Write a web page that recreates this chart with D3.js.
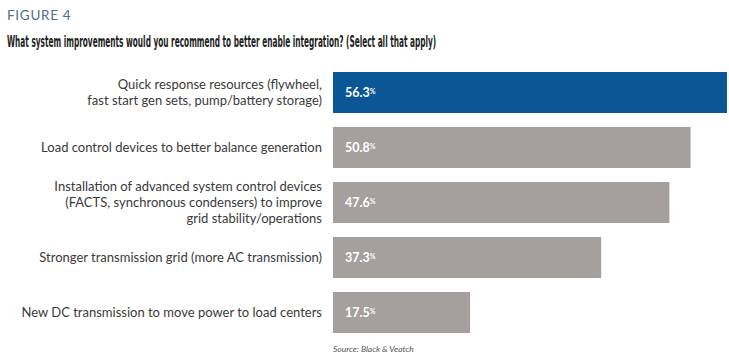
<!DOCTYPE html>
<html><head><meta charset="utf-8">
<script src="https://cdn.jsdelivr.net/npm/d3@7"></script>
<style>
body{margin:0;background:#fff;}
svg{display:block;}
</style></head>
<body>
<svg id="c" width="729" height="362"></svg>
<script>
const categories = [
  "Quick response resources (flywheel,\nfast start gen sets, pump/battery storage)",
  "Load control devices to better balance generation",
  "Installation of advanced system control devices\n(FACTS, synchronous condensers) to improve\ngrid stability/operations",
  "Stronger transmission grid (more AC transmission)",
  "New DC transmission to move power to load centers"
];
const values = [56.3, 50.8, 47.6, 37.3, 17.5];
const highlight = [true, false, false, false, false];
const figureLabel = "FIGURE 4";
const title = "What system improvements would you recommend to better enable integration? (Select all that apply)";
const source = "Source: Black & Veatch";

const svg = d3.select("#c");
const left = 333;
// display scale of the original infographic (bars share a common left edge)
const x = d3.scaleLinear().domain([-3.2, 56.3]).range([left, 727]);
const y = d3.scaleBand().domain(categories).range([72, 333]).paddingInner(14/55).paddingOuter(0);

svg.append("text").attr("x", 7).attr("y", 20)
  .attr("font-family", "Lato, 'Open Sans', sans-serif").attr("font-size", 13.5)
  .attr("letter-spacing", 0.7)
  .attr("fill", "#4d6f8c")
  .text(figureLabel);

const tg = svg.append("g");
const tt = tg.append("text").attr("x", 0).attr("y", 0)
  .attr("font-family", "'DejaVu Sans Condensed', 'Liberation Sans Narrow', sans-serif")
  .attr("font-weight", "bold").attr("font-size", 15.5).attr("fill", "#222")
  .text(title);
const w0 = tt.node().getComputedTextLength();
tg.attr("transform", `translate(7,47) scale(${430 / w0},1)`);

svg.selectAll("rect.bar").data(values).join("rect").attr("class", "bar")
  .attr("x", left).attr("y", (d, i) => y(categories[i]))
  .attr("width", d => x(d) - left).attr("height", y.bandwidth())
  .attr("fill", (d, i) => highlight[i] ? "#0b5796" : "#a5a09d");

const lh = 16;
categories.forEach((c, i) => {
  const lines = c.split("\n");
  const cy = y(c) + y.bandwidth() / 2;
  const t = svg.append("text").attr("text-anchor", "end")
    .attr("font-family", "Lato, 'Open Sans', sans-serif").attr("font-size", 13)
    .attr("fill", "#3a3a3a");
  lines.forEach((l, j) => {
    t.append("tspan").attr("x", 322)
      .attr("y", cy + (j - (lines.length - 1) / 2) * lh + 4.5).text(l);
  });
});

values.forEach((v, i) => {
  const cy = y(categories[i]) + y.bandwidth() / 2;
  const t = svg.append("text").attr("x", left + 12).attr("y", cy + 4.5)
    .attr("font-family", "Lato, 'Open Sans', sans-serif").attr("font-size", 12.5)
    .attr("font-weight", "bold").attr("fill", "#fff");
  t.append("tspan").text(v.toFixed(1));
  t.append("tspan").attr("font-size", 7).attr("dy", -3).text("%");
});

svg.append("text").attr("x", 333).attr("y", 352)
  .attr("font-family", "Lato, 'Open Sans', sans-serif").attr("font-size", 8.5)
  .attr("font-style", "italic").attr("fill", "#555").text(source);
</script>
</body></html>
